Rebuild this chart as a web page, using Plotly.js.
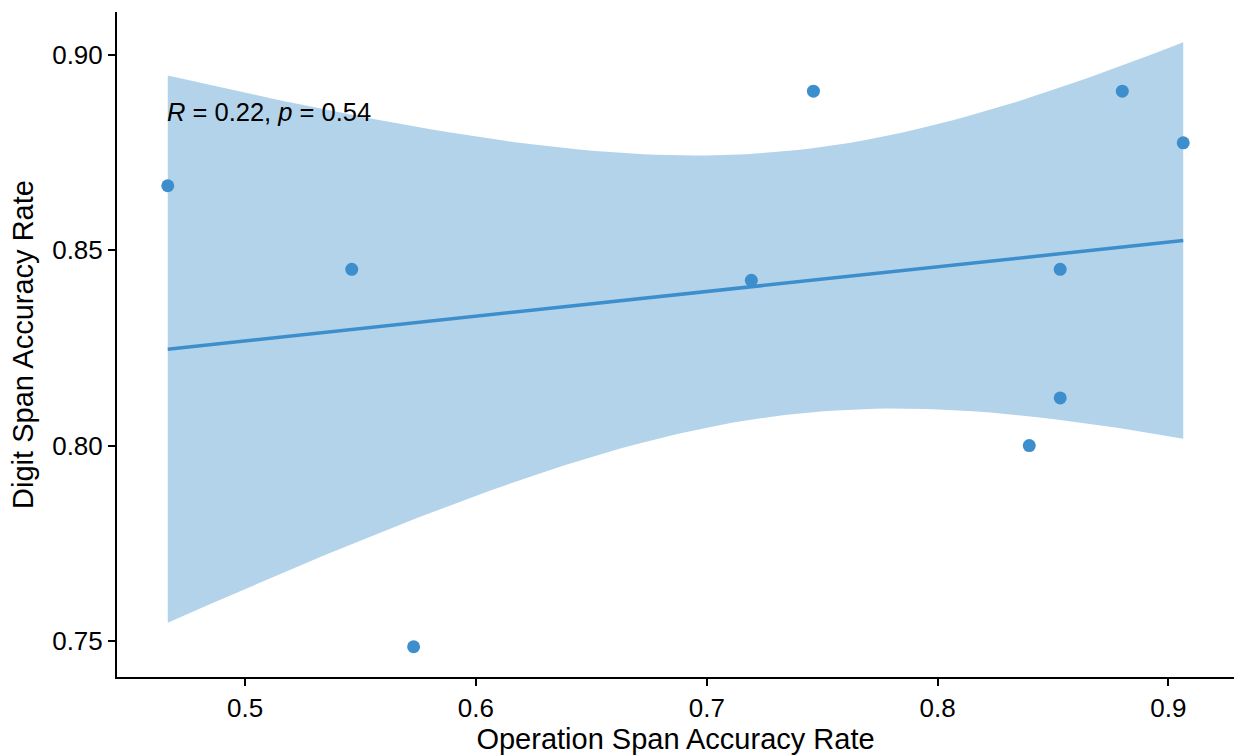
<!DOCTYPE html>
<html>
<head>
<meta charset="utf-8">
<script src="https://cdn.plot.ly/plotly-3.0.1.min.js"></script>
<style>
  html, body { margin: 0; padding: 0; background: #ffffff; }
  #chart { width: 1238px; height: 756px; }
</style>
</head>
<body>
<div id="chart"></div>
<script>
// Operation span vs digit span accuracy, one point per participant
const operationSpan = [0.4665, 0.5462, 0.5730, 0.7193, 0.7462, 0.8397, 0.8531, 0.8531, 0.8800, 0.9064];
const digitSpan     = [0.8665, 0.8451, 0.7485, 0.8423, 0.8907, 0.8000, 0.8451, 0.8122, 0.8907, 0.8775];

// Correlation summary shown in the corner label
const corR = 0.22;
const corP = 0.54;

const xTicks = [0.5, 0.6, 0.7, 0.8, 0.9];
const yTicks = [0.75, 0.80, 0.85, 0.90];

const pointColor = '#3D8ECC';
const bandColor = '#B3D3EB';
const fontFamily = 'Liberation Sans, Arial, sans-serif';

// Ordinary least squares fit with a 95% confidence band (t, df = n - 2)
function linearFit(xs, ys) {
  const n = xs.length;
  const mx = xs.reduce((a, b) => a + b, 0) / n;
  const my = ys.reduce((a, b) => a + b, 0) / n;
  let sxx = 0, sxy = 0, syy = 0;
  for (let i = 0; i < n; i++) {
    const dx = xs[i] - mx, dy = ys[i] - my;
    sxx += dx * dx; sxy += dx * dy; syy += dy * dy;
  }
  const slope = sxy / sxx;
  const intercept = my - slope * mx;
  const s = Math.sqrt((syy - sxy * sxy / sxx) / (n - 2));
  return { n, mx, sxx, slope, intercept, s };
}

const fit = linearFit(operationSpan, digitSpan);
const tCrit = 2.306004; // 97.5% quantile, df = 8
const xMin = Math.min(...operationSpan);
const xMax = Math.max(...operationSpan);
const nGrid = 80;
const gridX = [], fitY = [], lowY = [], highY = [];
for (let i = 0; i < nGrid; i++) {
  const x = xMin + (xMax - xMin) * i / (nGrid - 1);
  const yhat = fit.intercept + fit.slope * x;
  const se = fit.s * Math.sqrt(1 / fit.n + (x - fit.mx) * (x - fit.mx) / fit.sxx);
  gridX.push(x);
  fitY.push(yhat);
  lowY.push(yhat - tCrit * se);
  highY.push(yhat + tCrit * se);
}

// Axis ranges padded by 5% of the span on each side
function padded(lo, hi) {
  const d = (hi - lo) * 0.05;
  return [lo - d, hi + d];
}
const xRange = padded(xMin, xMax);
const yRange = padded(Math.min(...digitSpan, ...lowY), Math.max(...digitSpan, ...highY));

const traces = [
  {
    x: gridX.concat(gridX.slice().reverse()),
    y: highY.concat(lowY.slice().reverse()),
    type: 'scatter', mode: 'lines',
    fill: 'toself', fillcolor: bandColor,
    line: { width: 0, color: bandColor },
    hoverinfo: 'skip', showlegend: false
  },
  {
    x: gridX, y: fitY,
    type: 'scatter', mode: 'lines',
    line: { color: pointColor, width: 3.5 },
    showlegend: false
  },
  {
    x: operationSpan, y: digitSpan,
    type: 'scatter', mode: 'markers',
    marker: { color: pointColor, size: 13 },
    showlegend: false
  }
];

const axisCommon = {
  showgrid: false, zeroline: false,
  showline: true, linecolor: '#000000', linewidth: 2,
  ticks: 'outside', ticklen: 7, tickwidth: 2, tickcolor: '#000000',
  tickfont: { family: fontFamily, size: 26, color: '#000000' }
};

const layout = {
  width: 1238, height: 756,
  paper_bgcolor: '#ffffff', plot_bgcolor: '#ffffff',
  margin: { l: 117, r: 4, t: 12, b: 79 },
  font: { family: fontFamily, color: '#000000' },
  xaxis: Object.assign({}, axisCommon, {
    range: xRange,
    tickvals: xTicks,
    ticktext: xTicks.map(v => v.toFixed(1)),
    title: { text: 'Operation Span Accuracy Rate', font: { family: fontFamily, size: 29, color: '#000000' }, standoff: 6 }
  }),
  yaxis: Object.assign({}, axisCommon, {
    range: yRange,
    tickvals: yTicks,
    ticktext: yTicks.map(v => v.toFixed(2)),
    title: { text: 'Digit Span Accuracy Rate', font: { family: fontFamily, size: 29, color: '#000000' }, standoff: 10 }
  }),
  annotations: [{
    x: xMin, y: 0.8854, xref: 'x', yref: 'y',
    xanchor: 'left', yanchor: 'middle', xshift: -3,
    text: '<i>R</i> = ' + corR.toFixed(2) + ', <i>p</i> = ' + corP.toFixed(2),
    showarrow: false,
    font: { family: fontFamily, size: 25.5, color: '#000000' }
  }]
};

Plotly.newPlot('chart', traces, layout, { displayModeBar: false, staticPlot: true });
</script>
</body>
</html>
